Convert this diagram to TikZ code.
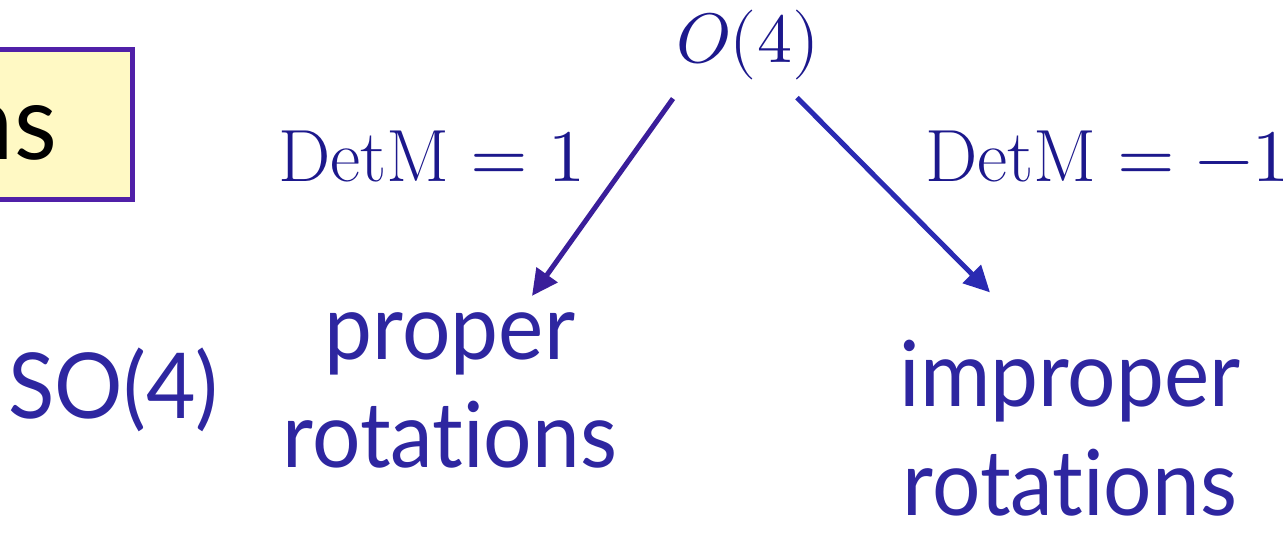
\documentclass[tikz,border=0pt]{standalone}
\usepackage{fontspec}
\usepackage{unicode-math}
\setmathfont{Latin Modern Math}
\usetikzlibrary{arrows.meta,calc}
\newfontfamily\opt[Ligatures={NoCommon},FakeStretch=0.94]{Lato}
\definecolor{txt}{HTML}{2E26A0}
\definecolor{mth}{HTML}{1C188C}
\definecolor{arrL}{HTML}{3A1E9A}
\definecolor{arrR}{HTML}{2A2AB2}
\definecolor{boxline}{HTML}{5020A8}
\definecolor{boxfill}{HTML}{FFF9C4}
\tikzset{
  lbl/.style={inner sep=0pt, text=txt, font=\opt\fontsize{91}{108}\selectfont},
  mlbl/.style={inner sep=0pt, text=mth, font=\fontsize{74}{88}\selectfont},
  arr/.style={line width=5pt, -{Triangle[width=25pt,length=26pt]}},
}
\begin{document}
\begin{tikzpicture}[x=1pt,y=-1pt]
\useasboundingbox (0,0) rectangle (1286,534);
\draw[line width=5pt, draw=boxline, fill=boxfill] (-20,50) rectangle (132,199.5);
\node[inner sep=0pt, anchor=base east, font=\opt\fontsize{105}{120}\selectfont] (ns) at (57,160) {ns};
\node[mlbl, anchor=base west, font=\fontsize{70}{84}\selectfont] (O4) at (676,63) {$O(4)$};
\node[mlbl, anchor=base west] (d1) at (278,182) {$\mathrm{DetM}=1$};
\node[mlbl, anchor=base west] (d2) at (925,182) {$\mathrm{DetM}=-1$};
\node[lbl, anchor=base west] (so) at (8,419) {SO(4)};
\node[lbl, anchor=base] (prop) at (450,360) {proper};
\node[lbl, anchor=base] (rot1) at (450,468) {rotations};
\node[lbl, anchor=base] (imp) at (1070,407) {improper};
\node[lbl, anchor=base] (rot2) at (1070,515) {rotations};
\draw[arr, draw=arrL, fill=arrL] ($(O4.south west)+(-3,18)$) -- ($(prop.north)+(82,-17)$);
\draw[arr, draw=arrR, fill=arrR] ($(O4.south west)+(121,17)$) -- ($(imp.north)+(-80,-48)$);
\end{tikzpicture}
\end{document}
